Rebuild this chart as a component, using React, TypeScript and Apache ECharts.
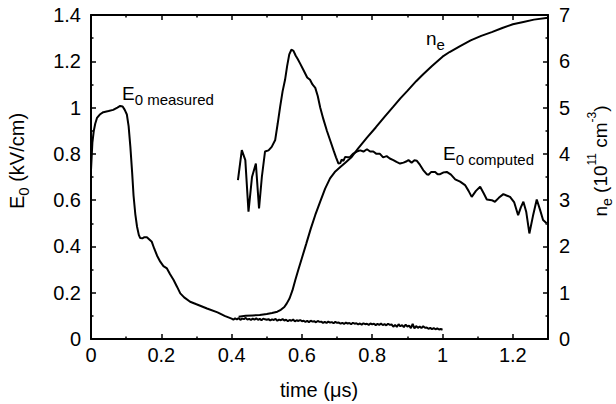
import React, { useEffect, useRef } from "react";
import * as echarts from "echarts";

// ---- data ----
const measuredT = [
  0, 0.004, 0.008, 0.012, 0.017, 0.025, 0.035, 0.05, 0.063, 0.075, 0.083, 0.09, 0.096, 0.102, 0.107,
  0.112, 0.117, 0.121, 0.126, 0.131, 0.136, 0.14, 0.146, 0.152, 0.159, 0.166, 0.173, 0.18, 0.188,
  0.197, 0.206, 0.216, 0.225, 0.235, 0.245, 0.254, 0.265, 0.282, 0.3, 0.33, 0.36, 0.38, 0.4,
];
const measuredE = [
  0.73, 0.85, 0.9, 0.93, 0.955, 0.97, 0.98, 0.985, 0.99, 1.0, 1.007, 1.005, 0.99, 0.97, 0.92,
  0.83, 0.72, 0.62, 0.54, 0.485, 0.45, 0.436, 0.435, 0.44, 0.44, 0.43, 0.42, 0.39, 0.36,
  0.334, 0.315, 0.305, 0.28, 0.255, 0.225, 0.197, 0.18, 0.161, 0.15, 0.132, 0.115, 0.1, 0.088,
];
// noisy tail of the measured field
const measuredTailT = [
  0.405, 0.41, 0.415, 0.42, 0.425, 0.43, 0.435, 0.44, 0.445, 0.45,
  0.455, 0.46, 0.465, 0.47, 0.475, 0.48, 0.485, 0.49, 0.495, 0.5,
  0.505, 0.51, 0.515, 0.52, 0.525, 0.53, 0.535, 0.54, 0.545, 0.55,
  0.555, 0.56, 0.565, 0.57, 0.575, 0.58, 0.585, 0.59, 0.595, 0.6,
  0.605, 0.61, 0.615, 0.62, 0.625, 0.63, 0.635, 0.64, 0.645, 0.65,
  0.655, 0.66, 0.665, 0.67, 0.675, 0.68, 0.685, 0.69, 0.695, 0.7,
  0.705, 0.71, 0.715, 0.72, 0.725, 0.73, 0.735, 0.74, 0.745, 0.75,
  0.755, 0.76, 0.765, 0.77, 0.775, 0.78, 0.785, 0.79, 0.795, 0.8,
  0.805, 0.81, 0.815, 0.82, 0.825, 0.83, 0.835, 0.84, 0.845, 0.85,
  0.855, 0.86, 0.865, 0.87, 0.875, 0.88, 0.885, 0.89, 0.895, 0.9,
  0.905, 0.91, 0.915, 0.92, 0.925, 0.93, 0.935, 0.94, 0.945, 0.95,
  0.955, 0.96, 0.965, 0.97, 0.975, 0.98, 0.985, 0.99, 0.995, 1.0,
];
const measuredTailE = [
  0.084, 0.089, 0.085, 0.09, 0.083, 0.088, 0.086, 0.091, 0.084, 0.087,
  0.082, 0.088, 0.084, 0.089, 0.083, 0.087, 0.081, 0.088, 0.085, 0.083,
  0.086, 0.08, 0.085, 0.082, 0.087, 0.079, 0.084, 0.081, 0.086, 0.08,
  0.083, 0.077, 0.082, 0.079, 0.084, 0.076, 0.081, 0.078, 0.082, 0.077,
  0.079, 0.074, 0.078, 0.073, 0.079, 0.075, 0.077, 0.072, 0.078, 0.074,
  0.075, 0.07, 0.074, 0.069, 0.075, 0.071, 0.073, 0.068, 0.074, 0.07,
  0.071, 0.066, 0.07, 0.065, 0.071, 0.067, 0.069, 0.064, 0.07, 0.066,
  0.068, 0.063, 0.067, 0.062, 0.068, 0.064, 0.066, 0.061, 0.067, 0.063,
  0.066, 0.06, 0.065, 0.061, 0.067, 0.06, 0.064, 0.059, 0.066, 0.061,
  0.063, 0.053, 0.061, 0.052, 0.064, 0.055, 0.06, 0.051, 0.062, 0.054,
  0.058, 0.047, 0.065, 0.046, 0.056, 0.048, 0.054, 0.047, 0.055, 0.049,
  0.05, 0.044, 0.048, 0.043, 0.047, 0.042, 0.046, 0.041, 0.043, 0.04,
];

const computedT = [
  0.418, 0.429, 0.439, 0.448, 0.458, 0.469, 0.478, 0.486, 0.495, 0.505, 0.514, 0.524, 0.531, 0.538,
  0.545, 0.552, 0.558, 0.564, 0.57, 0.576, 0.582, 0.588, 0.595, 0.605, 0.615, 0.623, 0.63, 0.638,
  0.645, 0.652, 0.661, 0.671, 0.68, 0.69, 0.697, 0.704, 0.709, 0.713, 0.718, 0.723, 0.73, 0.737,
  0.745, 0.756, 0.766, 0.775, 0.785, 0.794, 0.803, 0.812, 0.822, 0.831, 0.841, 0.85, 0.86, 0.869,
  0.879, 0.889, 0.898, 0.903, 0.912, 0.92, 0.927, 0.936, 0.945, 0.955, 0.96, 0.968, 0.979, 0.986,
  0.993, 1.003, 1.012, 1.024, 1.036, 1.05, 1.064, 1.074, 1.083, 1.095, 1.107, 1.117, 1.126, 1.14,
  1.149, 1.16, 1.173, 1.182, 1.192, 1.204, 1.215, 1.223, 1.23, 1.238, 1.247, 1.257, 1.268, 1.277,
  1.286, 1.296,
];
const computedE = [
  0.687, 0.816, 0.773, 0.55, 0.7, 0.758, 0.564, 0.7, 0.81, 0.815, 0.83, 0.86, 0.93, 1.003,
  1.07, 1.12, 1.18, 1.23, 1.25, 1.245, 1.225, 1.21, 1.19, 1.16, 1.13, 1.12, 1.1, 1.085,
  1.05, 1.0, 0.95, 0.9, 0.86, 0.815, 0.785, 0.758, 0.76, 0.775, 0.77, 0.787, 0.785, 0.787,
  0.8, 0.81, 0.815, 0.81, 0.82, 0.81, 0.81, 0.8, 0.8, 0.785, 0.79, 0.78, 0.773, 0.765,
  0.758, 0.762, 0.768, 0.773, 0.762, 0.772, 0.77, 0.752, 0.73, 0.712, 0.71, 0.722, 0.722, 0.712,
  0.712, 0.72, 0.722, 0.71, 0.69, 0.68, 0.665, 0.64, 0.614, 0.64, 0.658, 0.63, 0.603, 0.6,
  0.593, 0.61, 0.626, 0.62, 0.614, 0.59, 0.535, 0.57, 0.593, 0.55, 0.456, 0.53, 0.603, 0.56,
  0.514, 0.5,
];

const densityT = [
  0.42, 0.44, 0.46, 0.48, 0.5, 0.515, 0.53, 0.54, 0.55, 0.557, 0.565, 0.573, 0.581, 0.59, 0.6,
  0.612, 0.625, 0.638, 0.652, 0.666, 0.68, 0.695, 0.71, 0.725, 0.74, 0.76, 0.785, 0.81, 0.835,
  0.86, 0.88, 0.9, 0.925, 0.945, 0.97, 1.0, 1.02, 1.05, 1.08, 1.11, 1.14, 1.17, 1.2, 1.23, 1.26, 1.3,
];
const densityN = [
  0.48, 0.5, 0.51, 0.52, 0.54, 0.56, 0.59, 0.63, 0.69, 0.77, 0.88, 1.05, 1.27, 1.5, 1.75,
  2.05, 2.38, 2.68, 2.97, 3.25, 3.47, 3.62, 3.72, 3.82, 3.92, 4.12, 4.35, 4.57, 4.8,
  5.02, 5.2, 5.36, 5.57, 5.72, 5.9, 6.1, 6.2, 6.33, 6.45, 6.55, 6.63, 6.72, 6.8, 6.85, 6.9, 6.94,
];

const FONT = "'Liberation Sans', Arial, Helvetica, sans-serif";

const pairs = (xs: number[], ys: number[]) => xs.map((x, i) => [x, ys[i]]);

const richStyles = (main: number, sub: number) => ({
  a: { fontSize: main, fontFamily: FONT, lineHeight: 28, fill: "#000" },
  s: { fontSize: sub, fontFamily: FONT, lineHeight: 14, verticalAlign: "bottom", fill: "#000" },
  p: { fontSize: sub - 2, fontFamily: FONT, lineHeight: 20, verticalAlign: "top", fill: "#000" },
});

export default function App() {
  const ref = useRef<HTMLDivElement>(null);
  useEffect(() => {
    if (!ref.current) return;
    const chart = echarts.init(ref.current, null, { renderer: "svg" });
    const axisLine = { show: true, onZero: false, lineStyle: { color: "#000", width: 2 } };
    const tick = { show: true, inside: true, length: 5, lineStyle: { color: "#000", width: 1.5 } };
    const minor = { show: true, splitNumber: 2, length: 2.5, lineStyle: { color: "#000", width: 1.5 } };
    const labelStyle = { color: "#000", fontSize: 20, fontFamily: FONT };
    const lineStyle = { color: "#000", width: 2 };
    chart.setOption({
      animation: false,
      backgroundColor: "#fff",
      grid: { left: 91, right: 68, top: 15, bottom: 65 },
      xAxis: [
        {
          type: "value", min: 0, max: 1.3, interval: 0.2, position: "bottom",
          axisLine, axisTick: tick, minorTick: minor, splitLine: { show: false },
          axisLabel: { ...labelStyle, margin: 6, showMaxLabel: false },
        },
        {
          type: "value", min: 0, max: 1.3, interval: 0.2, position: "top",
          axisLine, axisTick: tick, minorTick: minor, splitLine: { show: false },
          axisLabel: { show: false },
        },
      ],
      yAxis: [
        {
          type: "value", min: 0, max: 1.4, interval: 0.2, position: "left",
          axisLine, axisTick: tick, minorTick: minor, splitLine: { show: false },
          axisLabel: { ...labelStyle, margin: 10 },
        },
        {
          type: "value", min: 0, max: 7, interval: 1, position: "right",
          axisLine, axisTick: tick, minorTick: minor, splitLine: { show: false },
          axisLabel: { ...labelStyle, margin: 11 },
        },
      ],
      series: [
        {
          type: "line", name: "E0 measured",
          data: pairs(measuredT.concat(measuredTailT), measuredE.concat(measuredTailE)),
          showSymbol: false, lineStyle, xAxisIndex: 0, yAxisIndex: 0,
        },
        { type: "line", name: "E0 computed", data: pairs(computedT, computedE), showSymbol: false, lineStyle, xAxisIndex: 0, yAxisIndex: 0 },
        { type: "line", name: "ne", data: pairs(densityT, densityN), showSymbol: false, lineStyle, xAxisIndex: 0, yAxisIndex: 1 },
      ],
      graphic: [
        {
          type: "text", x: 319, y: 390,
          style: { text: "time (μs)", font: `20px ${FONT}`, fill: "#000", align: "center", verticalAlign: "middle" },
        },
        {
          type: "text", x: 17, y: 161, rotation: Math.PI / 2,
          style: { text: "{a|E}{s|0}{a| (kV/cm)}", rich: richStyles(20, 15), align: "center", verticalAlign: "middle" },
        },
        {
          type: "text", x: 600, y: 161, rotation: Math.PI / 2,
          style: { text: "{a|n}{s|e}{a| (10}{p|11}{a| cm}{p|-3}{a|)}", rich: richStyles(19, 14), align: "center", verticalAlign: "middle" },
        },
        {
          type: "text", x: 122, y: 79,
          style: { text: "{a|E}{s|0 measured}", rich: richStyles(19, 15), align: "left", verticalAlign: "top" },
        },
        {
          type: "text", x: 426, y: 24,
          style: { text: "{a|n}{s|e}", rich: richStyles(19, 15), align: "left", verticalAlign: "top" },
        },
        {
          type: "text", x: 443, y: 139,
          style: { text: "{a|E}{s|0 computed}", rich: richStyles(19, 15), align: "left", verticalAlign: "top" },
        },
      ],
    });
    return () => chart.dispose();
  }, []);
  return (
    <div
      ref={ref}
      style={{ position: "fixed", left: 0, top: 0, width: 616, height: 404, background: "#fff" }}
    />
  );
}
